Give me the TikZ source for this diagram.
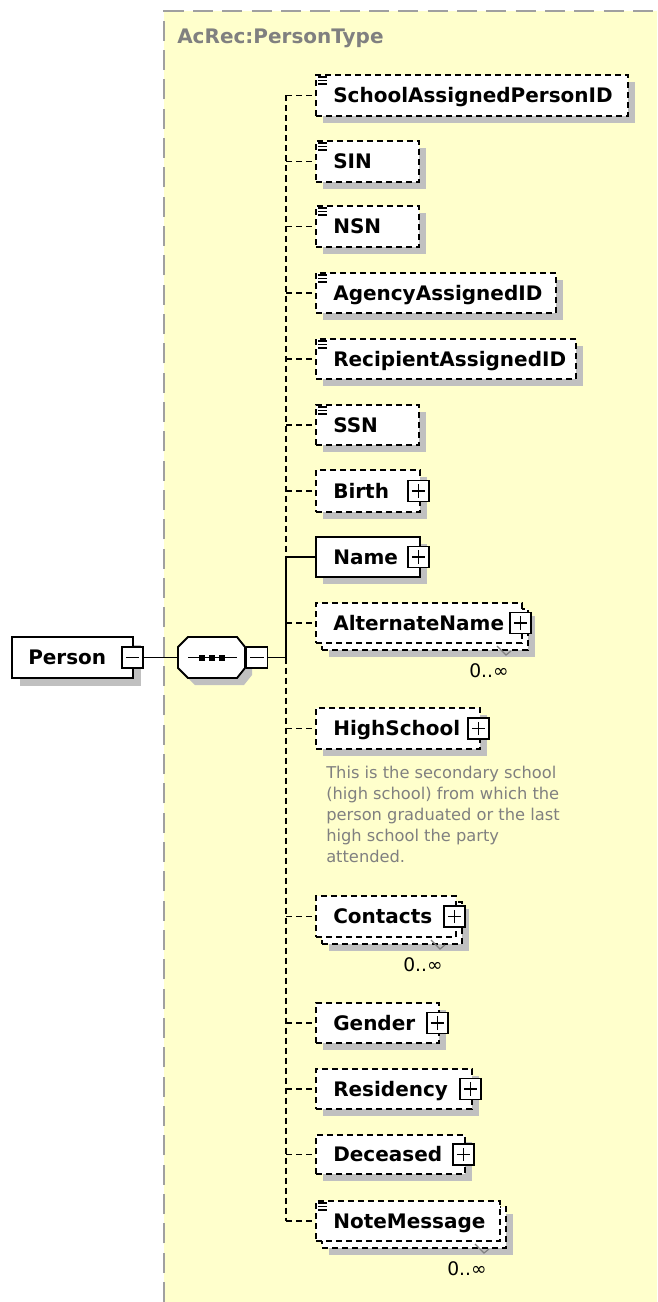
\documentclass[tikz,border=0pt]{standalone}
\usepackage{fontspec}
\setmainfont{DejaVu Sans}
\usetikzlibrary{fit}
\definecolor{bgY}{HTML}{FFFFCC}
\definecolor{shadowgray}{HTML}{C0C0C0}
\definecolor{grayT}{HTML}{808080}
\definecolor{bordG}{HTML}{A0A0A0}
\tikzset{
  ebox/.style={draw=black, fill=white, line width=1.4pt, dash pattern=on 4.5pt off 3pt, inner sep=0pt},
  sbox/.style={draw=black, fill=white, line width=1.4pt, inner sep=0pt},
  lbl/.style={font=\bfseries\fontsize{15}{18}\selectfont, inner sep=0pt, anchor=base west},
  hdr/.style={font=\bfseries\fontsize{15}{18}\selectfont, text=grayT, inner sep=0pt, anchor=base west},
  pmbox/.style={draw=black, fill=white, line width=1.3pt, inner sep=0pt, minimum size=15.75pt},
  plusbox/.style={pmbox, path picture={\draw[line width=1.3pt]
     ([xshift=-5pt]path picture bounding box.center) -- ([xshift=5pt]path picture bounding box.center)
     ([yshift=-5pt]path picture bounding box.center) -- ([yshift=5pt]path picture bounding box.center);}},
  minusbox/.style={pmbox, path picture={\draw[line width=1.3pt]
     ([xshift=-5pt]path picture bounding box.center) -- ([xshift=5pt]path picture bounding box.center);}},
  conn/.style={line width=1.4pt, dash pattern=on 4.5pt off 3pt},
  connsolid/.style={line width=1.4pt},
  occ/.style={font=\fontsize{14}{16}\selectfont, inner sep=0pt},
  desc/.style={font=\fontsize{12.2}{15.75}\selectfont, text=grayT, align=left, inner sep=0pt, anchor=north west},
  eqline/.style={line width=0.9pt},
  occtick/.style={draw=grayT, line width=0.9pt},
}
% #1 name, #2 top, #3 bottom, #4 right, #5 box style, #6 text
\newcommand{\SElem}[6]{%
  \fill[shadowgray] (323,#2+7) rectangle (#4+7,#3+7);
  \node[#5, fit={(316,#2) (#4,#3)}] (#1) {};
  \node[lbl] (#1t) at (333,{(#2+#3)/2+7}) {#6};
  \coordinate (#1j) at (286,{(#2+#3)/2});
}
% multi-occurrence element
\newcommand{\MElem}[5]{%
  \fill[shadowgray] (329,#2+13) rectangle (#4+13,#3+14);
  \node[ebox, fit={(322,#2+6) (#4+6,#3+7)}] (#1b) {};
  \node[ebox, fit={(316,#2) (#4,#3)}] (#1) {};
  \node[lbl] (#1t) at (333,{(#2+#3)/2+7}) {#5};
  \coordinate (#1j) at (286,{(#2+#3)/2});
  \draw[occtick] (#4-25,#3+3) -- (#4-16,#3+12) -- (#4-11,#3+8);
  \node[occ] (#1o) at (#4-33,#3+28) {0..∞};
}
\newcommand{\EqIcon}[1]{%
  \draw[eqline] ([shift={(3,3)}]#1.north west) -- ++(9,0)
                ([shift={(3,6.5)}]#1.north west) -- ++(9,0)
                ([shift={(3,10)}]#1.north west) -- ++(9,0);
}
\newcommand{\PlusAt}[3]{\node[plusbox] (#1) at (#2-1.5,#3) {};}
\begin{document}
\begin{tikzpicture}[x=0.75pt,y=-0.75pt]
\useasboundingbox (0,0) rectangle (657,1302);
% background complex type
\fill[bgY] (164,11) rectangle (657,1302);
\draw[bordG, line width=1.5pt, dash pattern=on 15pt off 7pt] (164,1302) -- (164,11) -- (657,11);
\node[hdr] (typename) at (177,44) {AcRec:PersonType};

% Person element
\fill[shadowgray] (20,645) rectangle (141,686);
\node[sbox, fit={(12,637) (133,678)}] (person) {};
\node[lbl] (persont) at (28,664) {Person};
\node[minusbox] (personm) at (132.5,657.5) {};

% sequence compositor
\fill[shadowgray] (195,644) -- (244,644) -- (252,654) -- (252,675) -- (244,685) -- (195,685) -- (185,675) -- (185,654) -- cycle;
\draw[line width=1.4pt, fill=white] (188,637) -- (237,637) -- (245,647) -- (245,668) -- (237,678) -- (188,678) -- (178,668) -- (178,647) -- cycle;
\node[inner sep=0pt, fit={(178,637) (245,678)}] (seq) {};
\draw[line width=1.4pt] (188,657.5) -- (237,657.5);
\fill (199,655) rectangle (205,660.5);
\fill (209,655) rectangle (215,660.5);
\fill (219,655) rectangle (225,660.5);
\node[minusbox] (seqm) at (257,657.5) {};
\coordinate (seqj) at (286,657.5);

% elements
\SElem{sapid}{75}{116}{628}{ebox}{SchoolAssignedPersonID}
\EqIcon{sapid}
\SElem{sin}{141}{182}{419}{ebox}{SIN}
\EqIcon{sin}
\SElem{nsn}{206}{247}{419}{ebox}{NSN}
\EqIcon{nsn}
\SElem{aaid}{273}{313}{556}{ebox}{AgencyAssignedID}
\EqIcon{aaid}
\SElem{raid}{339}{379}{576}{ebox}{RecipientAssignedID}
\EqIcon{raid}
\SElem{ssn}{405}{445}{419}{ebox}{SSN}
\EqIcon{ssn}
\SElem{birth}{470}{512}{420}{ebox}{Birth}
\PlusAt{birthp}{420}{491}
\SElem{name}{537}{577}{420}{sbox}{Name}
\PlusAt{namep}{420}{557}
\MElem{altn}{603}{643}{522}{AlternateName}
\PlusAt{altnp}{522}{623}
\SElem{hs}{708}{749}{480}{ebox}{HighSchool}
\PlusAt{hsp}{480}{728.5}
\node[desc] (hsdesc) at (326,766) {This is the secondary school\\(high school) from which the\\person graduated or the last\\high school the party\\attended.};
\MElem{cont}{896}{937}{456}{Contacts}
\PlusAt{contp}{456}{916.5}
\SElem{gend}{1003}{1043}{439}{ebox}{Gender}
\PlusAt{gendp}{439}{1023}
\SElem{resi}{1069}{1109}{472}{ebox}{Residency}
\PlusAt{resip}{472}{1089}
\SElem{dec}{1135}{1174}{465}{ebox}{Deceased}
\PlusAt{decp}{465}{1154.5}
\MElem{note}{1201}{1241}{500}{NoteMessage}
\EqIcon{note}

% connectors
\draw[connsolid] (personm) -- (seq);
\draw[connsolid] (seqm) -- (seqj);
\draw[conn] (sapidj) -- (namej);
\draw[connsolid] (namej) -- (seqj);
\draw[conn] (seqj) -- (notej);
\draw[conn] (sapidj) -- (sapid);
\draw[conn] (sinj) -- (sin);
\draw[conn] (nsnj) -- (nsn);
\draw[conn] (aaidj) -- (aaid);
\draw[conn] (raidj) -- (raid);
\draw[conn] (ssnj) -- (ssn);
\draw[conn] (birthj) -- (birth);
\draw[connsolid] (namej) -- (name);
\draw[conn] (altnj) -- (altn);
\draw[conn] (hsj) -- (hs);
\draw[conn] (contj) -- (cont);
\draw[conn] (gendj) -- (gend);
\draw[conn] (resij) -- (resi);
\draw[conn] (decj) -- (dec);
\draw[conn] (notej) -- (note);
\end{tikzpicture}
\end{document}
